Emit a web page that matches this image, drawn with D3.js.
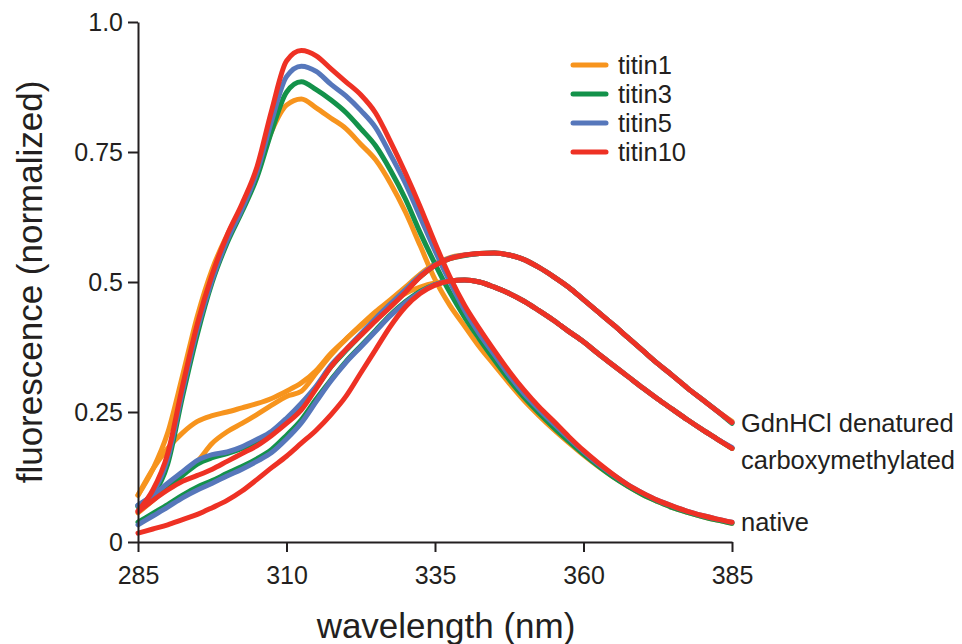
<!DOCTYPE html>
<html lang="en">
<head>
<meta charset="UTF-8">
<title>titin fluorescence</title>
<script src="https://cdn.jsdelivr.net/npm/d3@7"></script>
<style>
	body {
		margin: 0;
		background: #fff;
		font-family: "Liberation Sans", Arial, sans-serif;
	}
	.axis path, .axis line {
		stroke: #231f20;
		stroke-width: 2;
	}
	.axis text {
		font-size: 25px;
		fill: #231f20;
		font-family: "Liberation Sans", Arial, sans-serif;
	}
	.title {
		font-size: 35px;
		fill: #231f20;
	}
	.label {
		font-size: 25.5px;
		fill: #231f20;
	}
</style>
</head>
<body>
<div id="chart"></div>
<script>
// wavelength grid (nm)
var wavelength = [285, 287.5, 290, 292.5, 295, 297.5, 300, 302.5, 305, 307.5,
	310, 312.5, 315, 317.5, 320, 322.5, 325, 327.5, 330, 332.5,
	335, 337.5, 340, 342.5, 345, 347.5, 350, 352.5, 355, 357.5,
	360, 362.5, 365, 367.5, 370, 372.5, 375, 377.5, 380, 382.5, 385];

var proteins = ['titin1', 'titin3', 'titin5', 'titin10'];
var colors = ['#f7941d', '#13924a', '#5677bb', '#ee3124'];
var states = ['GdnHCl denatured', 'carboxymethylated', 'native'];

// native
var native1 = [0.09, 0.14, 0.21, 0.32, 0.435, 0.525, 0.59, 0.645, 0.71, 0.79,
	0.84, 0.852, 0.835, 0.815, 0.795, 0.765, 0.735, 0.69, 0.635, 0.57,
	0.505, 0.455, 0.415, 0.375, 0.34, 0.305, 0.272, 0.243, 0.216, 0.191,
	0.167, 0.145, 0.125, 0.107, 0.091, 0.078, 0.066, 0.057, 0.049, 0.042, 0.036];
var native3 = [0.07, 0.09, 0.15, 0.28, 0.40, 0.50, 0.575, 0.635, 0.70, 0.79,
	0.865, 0.885, 0.87, 0.85, 0.826, 0.795, 0.762, 0.715, 0.66, 0.595,
	0.535, 0.48, 0.432, 0.39, 0.35, 0.312, 0.278, 0.248, 0.22, 0.194,
	0.169, 0.146, 0.125, 0.107, 0.091, 0.078, 0.066, 0.057, 0.049, 0.042, 0.036];
var native5 = [0.07, 0.095, 0.16, 0.29, 0.41, 0.505, 0.58, 0.64, 0.71, 0.81,
	0.895, 0.915, 0.905, 0.88, 0.858, 0.83, 0.797, 0.745, 0.69, 0.625,
	0.56, 0.50, 0.445, 0.40, 0.36, 0.32, 0.285, 0.255, 0.227, 0.20,
	0.174, 0.15, 0.129, 0.11, 0.094, 0.08, 0.069, 0.059, 0.051, 0.044, 0.038];
var native10 = [0.06, 0.10, 0.17, 0.30, 0.42, 0.515, 0.59, 0.65, 0.72, 0.83,
	0.925, 0.945, 0.935, 0.91, 0.885, 0.86, 0.825, 0.77, 0.71, 0.645,
	0.575, 0.51, 0.455, 0.41, 0.368, 0.328, 0.292, 0.26, 0.232, 0.203,
	0.176, 0.152, 0.13, 0.11, 0.094, 0.08, 0.069, 0.059, 0.051, 0.044, 0.038];

// GdnHCl denatured
var gdn1 = [0.09, 0.14, 0.18, 0.21, 0.232, 0.243, 0.25, 0.258, 0.266, 0.276,
	0.29, 0.306, 0.33, 0.363, 0.39, 0.417, 0.443, 0.466, 0.49, 0.515,
	0.535, 0.547, 0.552, 0.555, 0.556, 0.552, 0.543, 0.528, 0.51, 0.49,
	0.466, 0.442, 0.418, 0.393, 0.368, 0.343, 0.32, 0.296, 0.274, 0.252, 0.232];
var gdn3 = [0.068, 0.085, 0.105, 0.128, 0.15, 0.162, 0.17, 0.18, 0.193, 0.21,
	0.235, 0.262, 0.297, 0.337, 0.368, 0.398, 0.428, 0.456, 0.483, 0.51,
	0.532, 0.545, 0.551, 0.555, 0.556, 0.552, 0.543, 0.528, 0.51, 0.49,
	0.466, 0.442, 0.418, 0.393, 0.368, 0.343, 0.32, 0.296, 0.274, 0.252, 0.228];
var gdn5 = [0.071, 0.09, 0.113, 0.135, 0.157, 0.168, 0.173, 0.183, 0.197, 0.213,
	0.238, 0.267, 0.30, 0.34, 0.37, 0.40, 0.43, 0.458, 0.485, 0.512,
	0.533, 0.546, 0.552, 0.555, 0.556, 0.552, 0.543, 0.528, 0.51, 0.49,
	0.466, 0.442, 0.418, 0.393, 0.368, 0.343, 0.32, 0.296, 0.274, 0.252, 0.23];
var gdn10 = [0.058, 0.08, 0.10, 0.117, 0.128, 0.14, 0.155, 0.17, 0.185, 0.205,
	0.228, 0.254, 0.295, 0.337, 0.37, 0.397, 0.425, 0.452, 0.48, 0.51,
	0.532, 0.545, 0.552, 0.555, 0.556, 0.552, 0.543, 0.528, 0.51, 0.49,
	0.466, 0.442, 0.418, 0.393, 0.368, 0.343, 0.32, 0.296, 0.274, 0.252, 0.23];

// carboxymethylated
var cm1 = [0.056, 0.08, 0.106, 0.13, 0.155, 0.19, 0.212, 0.228, 0.245, 0.263,
	0.28, 0.29, 0.325, 0.36, 0.39, 0.415, 0.44, 0.46, 0.478, 0.49,
	0.498, 0.502, 0.504, 0.50, 0.49, 0.478, 0.463, 0.445, 0.426, 0.405,
	0.385, 0.362, 0.34, 0.318, 0.296, 0.275, 0.255, 0.235, 0.216, 0.198, 0.18];
var cm3 = [0.038, 0.055, 0.072, 0.09, 0.106, 0.118, 0.132, 0.145, 0.16, 0.178,
	0.205, 0.235, 0.275, 0.312, 0.347, 0.377, 0.407, 0.437, 0.462, 0.482,
	0.495, 0.502, 0.504, 0.50, 0.49, 0.478, 0.463, 0.445, 0.426, 0.405,
	0.385, 0.362, 0.34, 0.318, 0.296, 0.275, 0.255, 0.235, 0.216, 0.198, 0.18];
var cm5 = [0.033, 0.05, 0.067, 0.085, 0.10, 0.113, 0.127, 0.14, 0.155, 0.172,
	0.198, 0.229, 0.27, 0.31, 0.345, 0.375, 0.405, 0.435, 0.46, 0.48,
	0.495, 0.502, 0.504, 0.50, 0.49, 0.478, 0.463, 0.445, 0.426, 0.405,
	0.385, 0.362, 0.34, 0.318, 0.296, 0.275, 0.255, 0.235, 0.216, 0.198, 0.182];
var cm10 = [0.017, 0.025, 0.033, 0.043, 0.053, 0.066, 0.08, 0.098, 0.12, 0.143,
	0.165, 0.19, 0.215, 0.245, 0.28, 0.325, 0.37, 0.415, 0.452, 0.478,
	0.494, 0.502, 0.504, 0.50, 0.49, 0.478, 0.463, 0.445, 0.426, 0.405,
	0.385, 0.362, 0.34, 0.318, 0.296, 0.275, 0.255, 0.235, 0.216, 0.198, 0.18];

var yTicks = [0, 0.25, 0.5, 0.75, 1];
var xTicks = [285, 310, 335, 360, 385];

var W = 962, H = 644;
var margin = {top: 22, left: 138, right: 230, bottom: 102};
var width = W - margin.left - margin.right;
var height = H - margin.top - margin.bottom;

var svg = d3.select('#chart').append('svg')
	.attr('width', W)
	.attr('height', H);

var g = svg.append('g')
	.attr('transform', 'translate(' + margin.left + ',' + margin.top + ')');

var x = d3.scaleLinear().domain([285, 385]).range([0, width]);
var y = d3.scaleLinear().domain([0, 1]).range([height, 0]);

// one group of curves per protein, drawn in legend order
var series = [
	{gdn: gdn1, cm: cm1, nat: native1},
	{gdn: gdn3, cm: cm3, nat: native3},
	{gdn: gdn5, cm: cm5, nat: native5},
	{gdn: gdn10, cm: cm10, nat: native10}
];

var line = d3.line()
	.x(function (d, i) { return x(wavelength[i]); })
	.y(function (d) { return y(d); })
	.curve(d3.curveMonotoneX);

series.forEach(function (s, i) {
	[s.gdn, s.cm, s.nat].forEach(function (vals) {
		g.append('path')
			.datum(vals)
			.attr('d', line)
			.attr('fill', 'none')
			.attr('stroke', colors[i])
			.attr('stroke-width', 5)
			.attr('stroke-linejoin', 'round')
			.attr('stroke-linecap', 'round');
	});
});

// axes
g.append('g')
	.attr('class', 'axis')
	.call(d3.axisLeft(y)
		.tickValues(yTicks)
		.tickSize(10)
		.tickSizeOuter(0)
		.tickPadding(5)
		.tickFormat(function (d) { return d === 1 ? '1.0' : d === 0 ? '0' : String(d); }));

g.append('g')
	.attr('class', 'axis')
	.attr('transform', 'translate(0,' + height + ')')
	.call(d3.axisBottom(x)
		.tickValues(xTicks)
		.tickSize(10)
		.tickSizeOuter(0)
		.tickPadding(14));

// axis titles
svg.append('text')
	.attr('class', 'title')
	.attr('x', 446)
	.attr('y', 638)
	.attr('text-anchor', 'middle')
	.text('wavelength (nm)');

svg.append('text')
	.attr('class', 'title')
	.attr('transform', 'translate(42,' + (margin.top + height / 2) + ') rotate(-90)')
	.attr('text-anchor', 'middle')
	.text('fluorescence (normalized)');

// curve labels at the right end
var endVals = [gdn1[gdn1.length - 1] - 0.004, cm10[cm10.length - 1] - 0.022, native10[native10.length - 1]];
states.forEach(function (s, i) {
	g.append('text')
		.attr('class', 'label')
		.attr('x', width + 9)
		.attr('y', y(endVals[i]))
		.attr('dy', '0.35em')
		.text(s);
});

// legend
var legend = svg.append('g')
	.attr('transform', 'translate(573,65)');

proteins.forEach(function (p, i) {
	legend.append('line')
		.attr('x1', 0).attr('x2', 33)
		.attr('y1', i * 29).attr('y2', i * 29)
		.attr('stroke', colors[i])
		.attr('stroke-width', 5)
		.attr('stroke-linecap', 'round');
	legend.append('text')
		.attr('class', 'label')
		.attr('x', 45)
		.attr('y', i * 29)
		.attr('dy', '0.35em')
		.text(p);
});
</script>
</body>
</html>
